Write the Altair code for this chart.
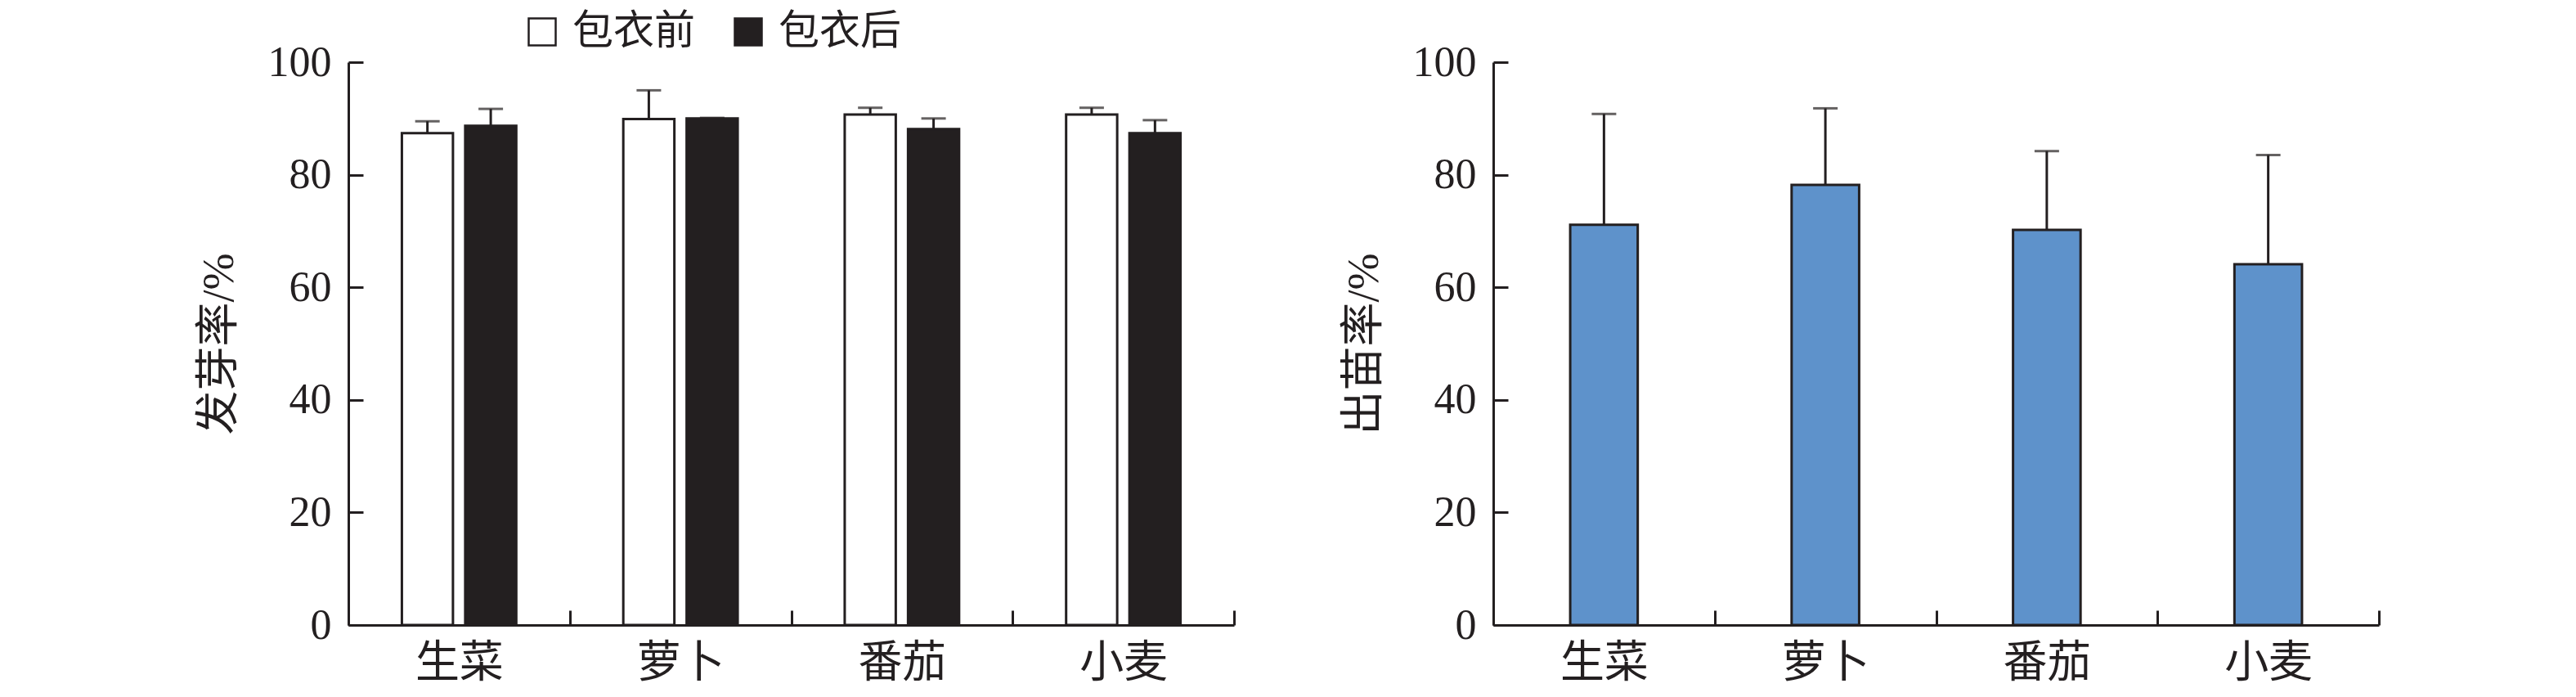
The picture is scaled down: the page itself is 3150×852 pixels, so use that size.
import altair as alt
import pandas as pd

crops = ["生菜", "萝卜", "番茄", "小麦"]
groups = ["包衣前", "包衣后"]
germ_before = [87.4, 89.9, 90.7, 90.7]
germ_before_err = [2.1, 5.1, 1.2, 1.2]
germ_after = [88.7, 90.0, 88.1, 87.4]
germ_after_err = [3.0, 0.1, 1.9, 2.3]
emerg = [71.1, 78.2, 70.2, 64.1]
emerg_err = [19.7, 13.6, 14.0, 19.4]

FONT = "Liberation Serif, Noto Sans CJK SC"
INK = "#231f20"
BLUE = "#5e92cb"

rows = []
for i, c in enumerate(crops):
    rows.append({"crop": c, "grp": groups[0], "v": germ_before[i], "hi": germ_before[i] + germ_before_err[i]})
    rows.append({"crop": c, "grp": groups[1], "v": germ_after[i], "hi": germ_after[i] + germ_after_err[i]})
df1 = pd.DataFrame(rows)
df2 = pd.DataFrame({"crop": crops, "v": emerg, "hi": [m + e for m, e in zip(emerg, emerg_err)]})

W, H = 1083, 688


def x_enc():
    return alt.X(
        "crop:N",
        sort=crops,
        scale=alt.Scale(paddingInner=0, paddingOuter=0),
        axis=alt.Axis(
            title=None,
            tickBand="extent",
            labelAngle=0,
            labelPadding=38,
        ),
    )


def y_enc(title, field="v"):
    return alt.Y(
        f"{field}:Q",
        scale=alt.Scale(domain=[0, 100], nice=False, zero=True),
        axis=alt.Axis(
            title=title,
            values=[0, 20, 40, 60, 80, 100],
            labelPadding=39,
            minExtent=100,
            maxExtent=100,
            titlePadding=31,
        ),
    )


xoff = alt.XOffset("grp:N", sort=groups, scale=alt.Scale(paddingInner=0.1935, paddingOuter=0.845))

bars1 = alt.Chart(df1).mark_bar(stroke=INK, strokeWidth=3).encode(
    x=x_enc(),
    xOffset=xoff,
    y=y_enc("发芽率/%"),
    fill=alt.Fill(
        "grp:N",
        sort=groups,
        scale=alt.Scale(domain=groups, range=["#ffffff", INK]),
        legend=alt.Legend(
            title=None,
            orient="none",
            direction="horizontal",
            legendX=212,
            legendY=-62,
            symbolType="square",
            symbolSize=1089,
            symbolStrokeColor=INK,
            symbolStrokeWidth=2.5,
            labelFontSize=50,
            labelFont=FONT,
            labelColor=INK,
            labelOffset=12,
            labelLimit=0,
            columnPadding=40,
            padding=0,
        ),
    ),
)
err1 = alt.Chart(df1).mark_rule(color=INK, strokeWidth=3).encode(
    x=alt.X("crop:N", sort=crops), xOffset=xoff, y="v:Q", y2="hi:Q"
)
cap1 = alt.Chart(df1).mark_tick(color=INK, thickness=3, size=30).encode(
    x=alt.X("crop:N", sort=crops), xOffset=xoff, y="hi:Q"
)
left = alt.layer(bars1, err1, cap1).properties(width=W, height=H)

bars2 = alt.Chart(df2).mark_bar(stroke=INK, strokeWidth=3, fill=BLUE, width=alt.RelativeBandSize(0.305)).encode(
    x=x_enc(), y=y_enc("出苗率/%")
)
err2 = alt.Chart(df2).mark_rule(color=INK, strokeWidth=3).encode(
    x=alt.X("crop:N", sort=crops), y="v:Q", y2="hi:Q"
)
cap2 = alt.Chart(df2).mark_tick(color=INK, thickness=3, size=30).encode(
    x=alt.X("crop:N", sort=crops), y="hi:Q"
)
right = alt.layer(bars2, err2, cap2).properties(width=W, height=H)

chart = (
    alt.hconcat(left, right, spacing=130)
    .resolve_scale(fill="independent", x="independent", y="independent")
    .properties(padding={"left": 233, "top": 6, "right": 0, "bottom": 0})
    .configure_view(stroke=None)
    .configure_axis(
        labelFont=FONT,
        titleFont=FONT,
        labelFontSize=52,
        titleFontSize=54,
        titleFontWeight="normal",
        labelColor=INK,
        titleColor=INK,
        domainColor=INK,
        domainWidth=3,
        tickColor=INK,
        tickWidth=3,
        tickSize={"expr": "-18"},
        grid=False,
    )
    .configure_axisX(labelFontSize=54)
)

chart.save("out.html", embed_options={"renderer": "svg", "actions": False})
